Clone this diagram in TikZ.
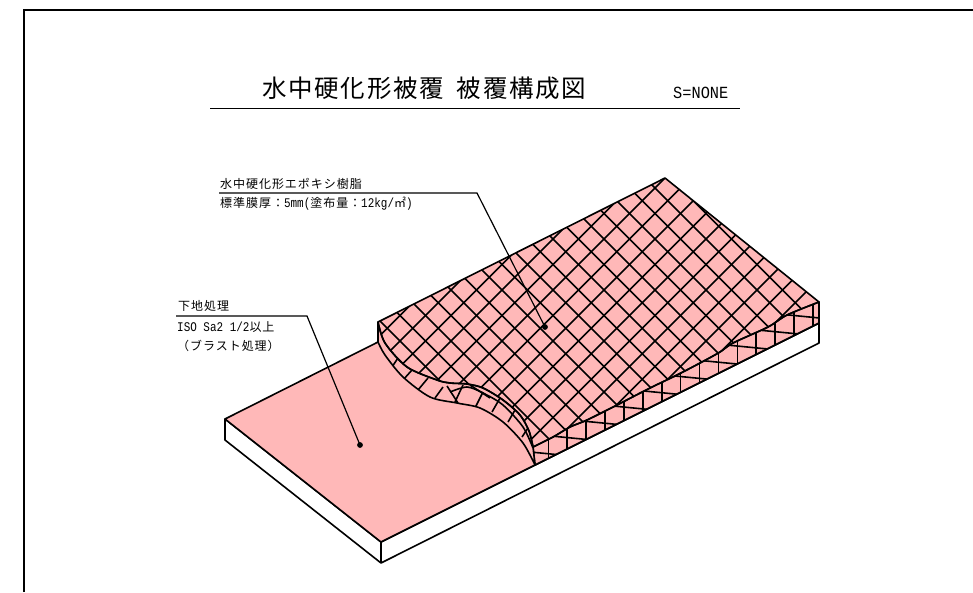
\documentclass[tikz,border=0pt]{standalone}
\usepackage{fontspec}
\newfontfamily\cjktitle[LetterSpace=7]{Noto Sans CJK JP}
\newfontfamily\cjklabel[LetterSpace=8]{Noto Sans CJK JP}
\newfontfamily\hwfont[FakeStretch=0.83]{Liberation Mono}
\newfontfamily\hwscale[FakeStretch=0.9]{Liberation Mono}
\definecolor{coatpink}{RGB}{255,184,184}
\newcommand{\hw}[1]{{\hwfont\fontsize{13.2}{14}\selectfont #1}}
\newcommand{\topface}{(378,322) -- (665,178) -- (819,302) -- plot[smooth] coordinates {(819,302) (787,315) (768,327) (733,343) (720,352) (700,363) (677,375) (650,388) (617,405) (587,420) (570,427) (553,437) (533,447)} -- plot[smooth] coordinates {(533,447) (529,431) (520,415) (503,400) (483,388) (467,384) (450,383) (437,380) (407,367) (385,343) (378,322)} -- cycle}
\newcommand{\sideface}{(819,302) -- plot[smooth] coordinates {(819,302) (787,315) (768,327) (733,343) (720,352) (700,363) (677,375) (650,388) (617,405) (587,420) (570,427) (553,437) (533,447)} -- (535,465) -- (819,323) -- cycle}
\newcommand{\curveface}{plot[smooth] coordinates {(533,447) (529,431) (520,415) (503,400) (483,388) (467,384) (450,383) (437,380) (407,367) (385,343) (378,322)} -- (378,342) -- plot[smooth] coordinates {(378,342) (385,355) (403,377) (430,397) (457,403) (480,408) (503,422) (523,443) (535,465)} -- cycle}
\tikzset{
  outline/.style={black,line width=1.6pt,line join=round},
  hatch/.style={black,line width=1.6pt},
  leader/.style={black,line width=1.2pt},
  tag/.style={anchor=west,inner sep=0,font=\cjklabel\fontsize{12}{14}\selectfont}
}
\begin{document}
\begin{tikzpicture}[x=1pt,y=-1pt]
\useasboundingbox (0,0) rectangle (973,592);
\draw[black,line width=1.4pt] (24,592)--(24,10)--(973,10);
% slab
\draw[outline,fill=white] (225,419)--(225,440)--(381,563)--(819,343)--(819,323)--(381,542)--cycle;
\draw[outline] (381,542)--(381,563);
\draw[outline,fill=coatpink] (225,419)--(378,342)--(819,323)--(381,542)--cycle;
% coating
\fill[coatpink] \topface;
\begin{scope}
\clip \topface;
\foreach \k in {-2,...,24} {
  \draw[hatch] (300,{300+(-467+25.5*\k)})--(900,{900+(-467+25.5*\k)});
  \draw[hatch] (300,{(843+25.5*(\k-8))-300})--(900,{(843+25.5*(\k-8))-900});
}
\end{scope}
\fill[coatpink] \sideface;
\begin{scope}
\clip \sideface;
\foreach \k in {0,...,14}
  \draw[hatch] ({548.3+18.9*\k},290)--({548.3+18.9*\k},480);
\foreach \k in {-6,...,6}
  \draw[hatch] (520,{391+18*\k-12})--(830,{391+18*\k+18});
\end{scope}
\draw[outline] \sideface;
\fill[coatpink] \curveface;
\begin{scope}
\clip \curveface;
\draw[hatch] (398,358)--(392,367) (412,370)--(403,380) (428,378)--(418,390) (443,387)--(435,398);
\draw[hatch] (463,385)--(455,402) (483,392)--(475,408) (500,398)--(492,412) (515,410)--(508,422) (528,428)--(522,437);
\draw[hatch] (447,386)--(458,403) (470,385)--(490,398) (380,325)--(390,350);
\draw[hatch] plot[smooth] coordinates {(450,392) (467,387) (483,393) (503,405) (523,427) (533,448)};
\end{scope}
\draw[outline] \curveface;
\draw[outline] \topface;
% leaders
\coordinate (coatStart) at (219,193);
\coordinate (coatBend) at (477,193);
\coordinate (coatDot) at (545,327);
\coordinate (baseStart) at (176,316);
\coordinate (baseBend) at (307,316);
\coordinate (baseDot) at (360,445);
\draw[leader] (coatStart)--(coatBend)--(coatDot);
\draw[leader] (baseStart)--(baseBend)--(baseDot);
\fill[black] (coatDot) circle (2.9);
\fill[black] (baseDot) circle (2.9);
% title
\coordinate (ruleA) at (210,108.5);
\coordinate (ruleB) at (740,108.5);
\draw[black,line width=1.2pt] (ruleA)--(ruleB);
\node[anchor=west,inner sep=0,font=\cjktitle\fontsize{24.5}{26}\selectfont] (title) at (262,88) {水中硬化形被覆\hspace{13pt}被覆構成図};
\node[anchor=west,inner sep=0,font=\hwscale\fontsize{17}{19}\selectfont] (scaleNote) at (673,93) {S=NONE};
% labels
\node[tag] (coatName) at (220,184) {水中硬化形エポキシ樹脂};
\node[tag] (coatSpec) at (220,204) {標準膜厚：\hw{5mm(}塗布量：\hw{12kg/}㎡\hw{)}};
\node[tag] (baseName) at (178,306) {下地処理};
\node[tag] (baseSpecA) at (177,327) {\hw{ISO Sa2 1/2}以上};
\node[tag] (baseSpecB) at (177,346) {（ブラスト処理）};
\end{tikzpicture}
\end{document}
